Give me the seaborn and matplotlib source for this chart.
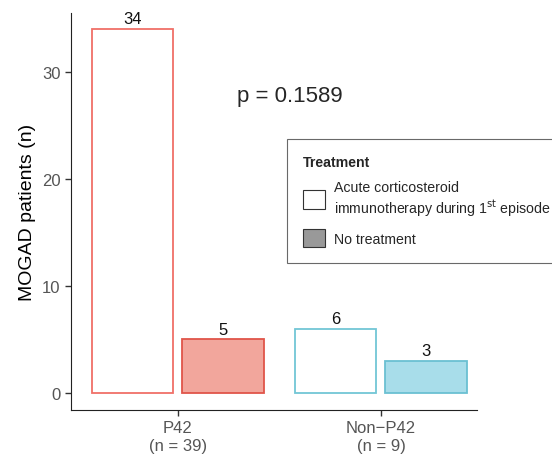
import pandas as pd
import numpy as np
import matplotlib
matplotlib.use('Agg')
import matplotlib.pyplot as plt
import seaborn as sns
from matplotlib.patches import Patch

# donnees
groupes = ['P42\n(n = 39)', 'Non\u2212P42\n(n = 9)']
traitements = ['Acute corticosteroid\nimmunotherapy during 1$^{\\mathrm{st}}$ episode', 'No treatment']
effectifs = [34, 5, 6, 3]   # P42 traite, P42 non traite, Non-P42 traite, Non-P42 non traite
p_valeur = 'p = 0.1589'

df = pd.DataFrame({
    'groupe': [groupes[0], groupes[0], groupes[1], groupes[1]],
    'traitement': [traitements[0], traitements[1], traitements[0], traitements[1]],
    'n': effectifs,
})

sns.set_style('white')
plt.rcParams['font.family'] = ['Liberation Sans', 'DejaVu Sans']

fig = plt.figure(figsize=(5.52, 4.6), dpi=100)
ax = fig.add_axes([71/552, 1 - 411/460, (477-71)/552, (411-14)/460])

sns.barplot(data=df, x='groupe', y='n', hue='traitement', order=groupes,
            hue_order=traitements, width=0.887, gap=0.1, ax=ax, legend=False)

# couleurs: contour par groupe, remplissage selon traitement
bords = {groupes[0]: ['#F07068', '#E0554A'], groupes[1]: ['#72C6D6', '#6BC0D2']}
remplis = {groupes[0]: ['white', '#F2A69C'], groupes[1]: ['white', '#A8DDEA']}
for j, cont in enumerate(ax.containers):
    for i, bar in enumerate(cont):
        g = groupes[i]
        bar.set_facecolor(remplis[g][j])
        bar.set_edgecolor(bords[g][j])
        bar.set_linewidth(1.3)
    ax.bar_label(cont, padding=2, fontsize=12, color='#111111')

ax.set_xlim(-0.527, 1.473)
ax.set_ylim(-1.6, 35.5)
ax.set_yticks([0, 10, 20, 30])
ax.set_xlabel('')
ax.set_ylabel('MOGAD patients (n)', fontsize=14, color='black')
ax.tick_params(axis='both', labelsize=12, labelcolor='#555555', color='#333333',
               length=4, width=1, direction='out', left=True, bottom=True)
sns.despine(ax=ax)
ax.spines['left'].set_color('#222222')
ax.spines['bottom'].set_color('#222222')

ax.text(0.55, 27.8, p_valeur, fontsize=16, ha='center', va='center')

poignees = [Patch(facecolor='white', edgecolor='#333333', linewidth=0.8),
            Patch(facecolor='#999999', edgecolor='#333333', linewidth=0.8)]
leg = fig.legend(poignees, traitements, title='Treatment', loc='upper left',
                 bbox_to_anchor=(287/552, 1 - 140/460), borderaxespad=0,
                 fontsize=10.2, title_fontsize=10.2,
                 frameon=True, fancybox=False, edgecolor='#444444',
                 handlelength=1.6, handleheight=1.6, handletextpad=0.6,
                 borderpad=1.1, labelspacing=0.8, alignment='left')
leg.get_title().set_fontweight('bold')
leg.get_frame().set_linewidth(0.8)

plt.savefig('out.png', dpi=100)
